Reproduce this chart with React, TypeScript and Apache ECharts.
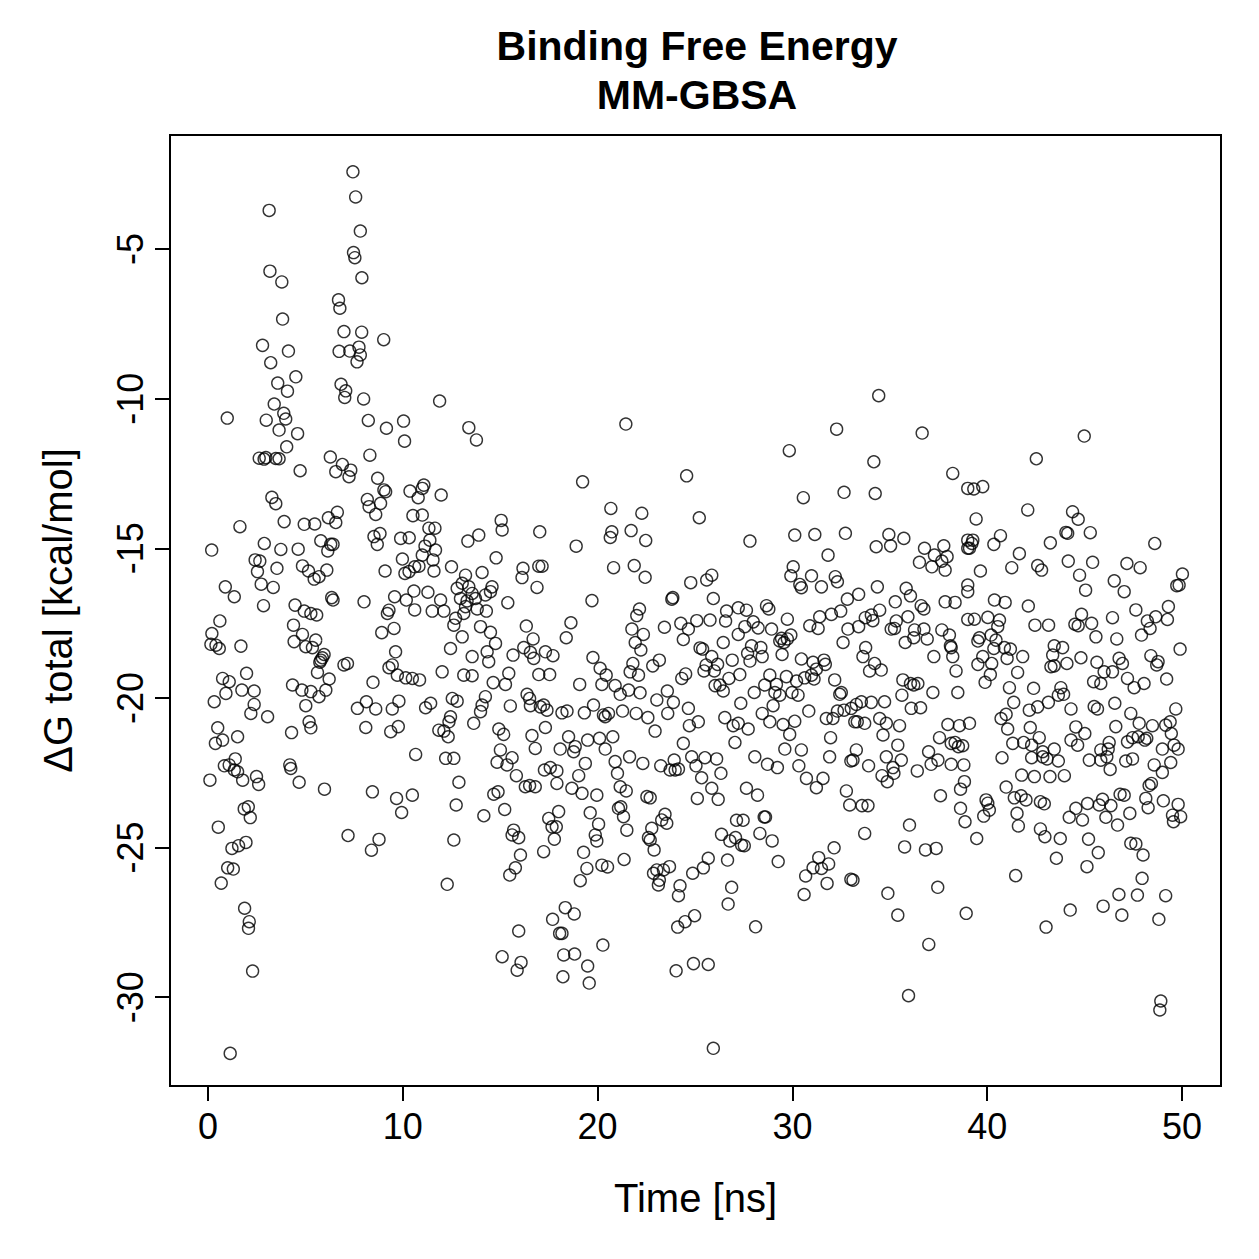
import React, { useEffect, useRef } from "react";
import * as echarts from "echarts";

// ---- Data (time [ns], ΔG total [kcal/mol]) ----
const earlySpikes: [number, number][] = [
  [7.44,-2.42],[7.58,-3.26],[3.14,-3.71],[7.82,-4.40],[7.47,-5.12],[7.54,-5.29],[3.18,-5.74],[3.79,-6.10],[7.90,-5.96],[6.70,-6.70],[6.77,-6.98],[3.83,-7.34],[6.98,-7.76],[7.89,-7.78],[9.02,-8.03],[2.80,-8.22],[4.13,-8.41],[3.22,-8.80],[6.73,-8.42],[7.28,-8.41],[7.75,-8.28],[7.82,-8.54],[7.65,-8.77],[4.51,-9.27],[3.58,-9.48],[4.08,-9.75],[6.83,-9.52],[7.07,-9.74],[7.02,-9.96],[7.99,-10.01],[11.89,-10.08],[3.40,-10.18],[3.89,-10.49],[3.99,-10.68],[0.99,-10.65],[2.99,-10.72],[8.23,-10.73],[9.16,-10.99],[10.04,-10.75],[3.65,-11.05],[4.60,-11.17],[10.09,-11.42],[4.04,-11.61],[8.31,-11.89],[6.28,-11.95],[2.63,-11.99],[2.97,-11.97],[2.88,-12.02],[3.48,-12.0],[3.65,-12.01],
];
const upperOutliers: [number, number][] = [
  [13.39,-10.97],[13.78,-11.38],[21.45,-10.85],[34.43,-9.90],[32.27,-11.02],[36.66,-11.15],[29.84,-11.74],[34.18,-12.11],[44.98,-11.25],[42.52,-12.01],
];
const first13nsMid: [number, number][] = [
  [6.90,-12.2],[6.56,-12.44],[7.33,-12.39],[7.24,-12.61],[4.73,-12.41],[8.71,-12.66],[9.03,-13.05],[9.12,-13.11],[8.18,-13.37],[8.86,-13.50],[8.27,-13.61],[8.61,-13.87],[10.37,-13.09],[10.79,-13.31],[11.00,-13.0],[11.08,-12.89],[11.97,-13.22],[10.52,-13.91],[11.0,-13.89],[3.28,-13.30],[3.48,-13.51],[3.91,-14.11],[1.64,-14.28],[4.94,-14.2],[5.48,-14.19],[6.18,-13.98],[6.64,-13.80],[6.56,-14.14],
  [11.34,-14.33],[11.65,-14.33],[11.39,-14.73],[11.68,-15.06],[11.14,-14.93],[11.0,-15.23],[11.55,-15.39],[10.83,-15.6],[10.61,-15.62],[11.6,-15.76],[10.32,-15.78],[10.11,-15.84],[9.98,-15.36],
  [8.52,-14.61],[8.83,-14.51],[8.69,-14.87],[9.89,-14.67],[10.33,-14.65],[12.5,-15.62],[9.09,-15.76],[0.19,-15.06],[2.89,-14.84],[3.74,-15.04],[4.63,-15.03],[5.79,-14.75],[6.30,-14.87],[6.42,-14.87],[6.15,-15.09],[2.42,-15.39],[2.66,-15.43],[2.54,-15.78],[3.54,-15.67],[4.85,-15.59],[5.16,-15.76],[5.45,-16.03],[5.70,-15.95],[6.10,-15.73],[0.89,-16.29],[1.35,-16.62],[2.73,-16.2],[3.35,-16.31],[2.85,-16.92],[4.47,-16.9],[6.35,-16.65],[6.42,-16.73],[4.94,-17.1],[5.28,-17.18],[5.58,-17.23],[8.01,-16.79],
  [9.58,-16.62],[10.18,-16.73],[10.57,-16.43],[11.29,-16.47],[11.94,-16.73],[10.61,-17.06],[11.51,-17.1],[12.11,-17.1],[9.29,-17.07],[9.21,-17.18],[0.61,-17.43],[0.2,-17.85],[0.15,-18.21],[0.41,-18.24],[0.58,-18.35],[1.69,-18.27],
  [4.39,-17.57],[4.85,-17.88],[4.42,-18.12],[5.53,-18.07],[5.02,-18.29],[5.36,-18.32],[5.96,-18.55],[5.79,-18.74],[5.87,-18.66],[5.74,-18.81],[6.98,-18.9],[7.16,-18.85],[8.92,-17.82],[9.55,-17.68],[9.63,-18.46],
  [9.29,-18.99],[9.46,-18.9],[9.72,-19.24],[10.15,-19.33],[10.49,-19.35],[10.86,-19.4],[12.02,-19.13],[8.47,-19.48],
  [1.98,-19.18],[0.75,-19.35],[1.09,-19.46],[0.92,-19.85],[0.32,-20.13],[1.74,-19.74],[2.37,-19.77],[2.37,-20.22],[2.2,-20.52],[3.06,-20.63],
  [6.22,-19.37],[6.05,-19.74],[5.7,-19.96],[5.28,-19.79],[4.82,-19.74],[4.34,-19.57],[5.02,-20.26],[5.62,-19.15],[5.19,-20.8],[5.28,-21.0],[4.29,-21.16],
  [7.67,-20.35],[8.13,-20.13],[8.61,-20.37],[9.46,-20.37],[9.8,-20.11],[8.1,-20.99],[9.38,-21.13],[9.77,-20.96],[11.17,-20.33],[11.43,-20.18],[10.66,-21.89],[12.45,-20.63],[12.37,-20.8],[11.85,-21.08],[12.11,-21.11],[12.33,-21.3],
  [0.5,-21.0],[0.75,-21.41],[0.38,-21.52],[1.52,-21.3],[12.2,-22.02],[12.62,-22.02],
];
const first13nsLow: [number, number][] = [
  [1.40,-22.04],[0.84,-22.27],[1.09,-22.24],[1.35,-22.41],[1.52,-22.47],[0.10,-22.75],[1.78,-22.75],[2.49,-22.63],[2.60,-22.89],[4.20,-22.24],[4.25,-22.36],[4.68,-22.82],[5.98,-23.05],[8.44,-23.14],[9.68,-23.36],[10.49,-23.25],[9.94,-23.83],[12.88,-22.82],[12.74,-23.58],[12.62,-24.75],[12.28,-26.23],[1.86,-23.71],[2.07,-23.64],[2.17,-24.0],[0.53,-24.32],[1.23,-25.03],[1.57,-24.94],[1.95,-24.83],[1.01,-25.68],[1.30,-25.72],[0.68,-26.19],[7.19,-24.6],[8.39,-25.09],[8.78,-24.73],[1.88,-27.03],[2.12,-27.48],[2.08,-27.70],[2.29,-29.13],[1.14,-31.88],
];
const midTimeUpper: [number, number][] = [
  [19.23,-12.78],[24.57,-12.58],[20.68,-13.67],[22.27,-13.83],[25.22,-13.98],[15.05,-14.07],[15.10,-14.39],[17.03,-14.45],[13.90,-14.56],[13.34,-14.76],[20.73,-14.45],[20.65,-14.64],[21.72,-14.41],[22.47,-14.74],[18.90,-14.93],[14.79,-15.32],[20.82,-15.65],[21.88,-15.58],[22.44,-15.97],[16.17,-15.67],[16.12,-15.98],[16.98,-15.60],[17.15,-15.60],[16.89,-16.31],
  [13.22,-15.9],[14.07,-15.81],[13.05,-16.17],[12.79,-16.34],[13.39,-16.29],[13.56,-16.51],[13.73,-16.68],[14.58,-16.29],[14.50,-16.45],[14.24,-16.56],[12.96,-16.68],[13.30,-16.76],[13.22,-16.95],[13.82,-17.03],[14.29,-17.10],[13.13,-17.18],[12.71,-17.34],[12.62,-17.57],[15.39,-16.82],[13.05,-17.96],[13.99,-17.62],[14.50,-17.81],[14.76,-18.18],[14.33,-18.46],[14.41,-18.79],[13.56,-18.62],[13.13,-19.24],[13.56,-19.26],[14.64,-19.49],[15.27,-19.55],[15.44,-19.18],[12.45,-18.35],
  [16.34,-17.6],[16.69,-18.03],[16.21,-18.32],[16.55,-18.48],[16.72,-18.68],[15.66,-18.57],[17.32,-18.46],[17.71,-18.59],[16.98,-19.22],[17.54,-19.22],[18.63,-17.49],[18.39,-17.99],[19.71,-16.75],
  [21.76,-17.7],[22.01,-17.25],[22.15,-17.03],[22.35,-17.88],[21.93,-18.15],[22.22,-18.4],[23.81,-16.7],[23.86,-16.65],[23.43,-17.64],[24.27,-17.51],[24.66,-17.7],[25.09,-17.42],[24.40,-18.05],[24.78,-16.15],[25.60,-16.06],[25.86,-15.9],[25.94,-16.68],[25.77,-17.4],[25.26,-18.33],[25.39,-18.37],[25.86,-18.62],[25.57,-18.9],[25.46,-19.1],
  [19.76,-18.65],[20.13,-19.01],[20.44,-19.24],[20.22,-19.55],[21.81,-18.85],[21.67,-19.13],[22.10,-19.24],[22.83,-18.93],[23.17,-18.74],[20.90,-19.59],[21.16,-19.88],[21.59,-19.74],[22.18,-19.83],[19.08,-19.55],[23.58,-19.77],[23.04,-20.07],[23.89,-20.15],[24.32,-19.35],[24.52,-19.2],[26.03,-19.59],
  [16.38,-19.88],[16.51,-20.02],[16.55,-20.26],[17.06,-20.3],[17.23,-20.24],[17.40,-20.41],[18.17,-20.5],[18.43,-20.44],[15.52,-20.27],[14.24,-19.96],[14.07,-20.24],[13.99,-20.46],[13.64,-20.85],[12.79,-20.11],[12.54,-20.02],[14.93,-21.04],[15.18,-21.22],[17.32,-20.99],[16.63,-21.26],[16.80,-21.69],[15.01,-21.74],
  [19.32,-20.5],[19.79,-20.24],[20.39,-20.63],[20.56,-20.52],[20.30,-20.57],[21.28,-20.44],[21.98,-20.52],[22.58,-20.66],[22.95,-21.11],[23.60,-20.52],[24.66,-20.35],[24.71,-20.93],[25.17,-20.8],[24.40,-21.52],
  [18.51,-21.3],[18.85,-21.63],[18.77,-21.8],[19.49,-21.41],[20.10,-21.35],[20.78,-21.3],[20.39,-21.71],[18.08,-21.71],
];
const midTimeLower: [number, number][] = [
  [14.84,-22.15],[15.35,-22.24],[15.61,-22.0],[15.83,-22.6],[16.29,-22.97],[16.51,-22.93],[16.80,-22.97],[14.67,-23.22],[14.89,-23.14],[14.16,-23.94],[15.23,-23.73],[15.69,-24.42],[15.61,-24.58],[15.95,-24.67],[16.04,-25.25],[15.78,-25.68],[15.49,-25.92],[17.27,-22.41],[17.57,-22.33],[17.91,-22.44],[17.91,-22.86],[18.0,-23.8],[17.49,-24.03],[17.66,-24.31],[17.88,-24.31],[17.78,-24.72],[17.23,-25.14],[19.37,-22.19],[19.03,-22.6],[18.68,-23.02],[19.2,-23.19],[19.96,-23.25],[19.62,-23.84],[20.05,-24.22],[19.88,-24.58],[19.96,-24.78],[19.28,-25.16],[19.45,-25.7],[19.11,-26.11],[20.22,-25.59],[20.51,-25.65],[21.36,-25.4],[20.9,-22.13],[21.02,-22.52],[21.16,-22.97],[21.47,-23.11],[21.64,-21.97],[21.07,-23.69],[21.19,-23.64],[21.33,-23.97],[21.5,-24.42],[22.32,-22.19],[22.53,-23.3],[22.7,-23.34],[23.24,-22.27],[23.72,-22.41],[23.98,-22.41],[24.15,-22.38],[23.93,-22.08],[24.83,-21.97],[25.05,-22.27],[25.34,-22.67],[25.51,-22.0],[25.12,-23.36],[25.86,-23.02],[23.46,-23.89],[23.29,-24.08],[23.55,-24.19],[22.78,-24.36],[22.61,-24.67],[22.7,-24.75],[22.9,-25.08],[23.69,-25.64],[23.38,-25.75],[23.04,-25.75],[22.87,-25.86],[23.17,-26.09],[23.12,-26.25],[24.23,-26.28],[24.15,-26.61],[25.68,-25.36],[25.43,-25.68],[24.88,-25.86],[18.34,-27.01],[18.8,-27.22],[17.69,-27.4],[15.95,-27.79],[18.05,-27.87],[18.17,-27.87],[20.27,-28.26],[15.1,-28.65],[16.07,-28.84],[15.87,-29.1],[18.26,-28.59],[18.82,-28.56],[19.49,-28.96],[18.22,-29.32],[19.57,-29.53],[24.98,-27.28],[24.49,-27.48],[24.11,-27.66],[24.92,-28.88],[25.68,-28.91],[24.03,-29.12],[25.94,-31.71],
];
const lateTimeUpper: [number, number][] = [
  [38.23,-12.5],[30.56,-13.31],[32.65,-13.13],[34.25,-13.17],[39.0,-13.0],[27.82,-14.76],[30.12,-14.56],[31.15,-14.54],[32.72,-14.5],[31.83,-15.23],[34.3,-14.95],[34.95,-14.54],[35.04,-14.92],[35.72,-14.67],[36.78,-15.0],[37.29,-15.23],[37.77,-14.92],[37.94,-15.28],[37.67,-15.43],[36.52,-15.47],[37.16,-15.62],[37.84,-15.73],[39.0,-14.73],[39.0,-15.0],[30.04,-15.62],[29.92,-15.92],[30.38,-16.21],[30.46,-16.32],[30.98,-15.92],[31.49,-16.29],[32.2,-15.95],[32.31,-16.12],[34.36,-16.29],[35.84,-16.34],[36.06,-16.59],[32.82,-16.7],[33.4,-16.54],[35.28,-16.79],[36.61,-16.92],[36.75,-17.03],[37.84,-16.79],[38.35,-16.81],[39.0,-16.23],[39.0,-16.45],
  [26.62,-17.1],[27.22,-16.99],[27.64,-17.07],[28.67,-16.92],[28.79,-17.03],[29.74,-17.37],[26.57,-17.43],[27.99,-17.46],[28.24,-17.66],[27.56,-17.62],[27.22,-17.88],[28.93,-17.7],[29.92,-17.9],[29.74,-18.03],[29.44,-18.01],[29.57,-18.15],[29.47,-18.55],[29.35,-18.1],
  [31.4,-17.29],[30.89,-17.59],[31.32,-17.68],[32.0,-17.21],[32.48,-17.1],[32.85,-17.7],[32.6,-18.15],[33.4,-17.62],[33.74,-17.32],[34.05,-17.23],[34.13,-17.42],[34.48,-17.07],[35.33,-17.43],[35.07,-17.7],[35.24,-17.68],[35.93,-17.29],[36.27,-17.73],[36.75,-17.7],[36.92,-18.03],[35.79,-18.15],[36.23,-17.99],[37.67,-17.73],[38.06,-17.9],[38.11,-18.26],[38.15,-18.32],[38.23,-18.62],[37.26,-18.62],[39.0,-17.38],
  [26.16,-18.88],[25.99,-19.1],[26.45,-18.15],[26.91,-18.74],[27.7,-18.51],[27.9,-18.26],[28.38,-18.32],[28.45,-18.62],[27.82,-18.77],
  [30.46,-18.7],[31.06,-18.81],[31.62,-18.74],[31.69,-18.88],[31.23,-19.04],[30.98,-19.24],[30.63,-19.33],[31.11,-19.37],[32.17,-19.4],[32.43,-19.88],[32.51,-19.82],[32.31,-20.44],[32.08,-20.69],[31.74,-20.69],
  [33.76,-18.32],[33.62,-18.62],[34.22,-18.85],[34.56,-19.07],[33.96,-19.1],[35.67,-19.4],[36.06,-19.52],[36.23,-19.57],[36.44,-19.52],[35.62,-19.91],[37.21,-19.82],[38.49,-19.82],[38.4,-19.1],[36.1,-20.35],[36.58,-20.33],
  [34.73,-20.13],[34.05,-20.15],[33.54,-20.13],[33.28,-20.22],[33.02,-20.35],[32.65,-20.41],[33.33,-20.8],[33.2,-20.8],[33.71,-20.85],[34.48,-20.69],[34.82,-20.85],[35.5,-20.93],[34.65,-21.24],[35.41,-21.58],[33.28,-21.74],[31.96,-21.33],
  [37.98,-20.89],[38.57,-20.93],[37.55,-21.33],[38.15,-21.52],[38.35,-21.49],[38.52,-21.63],[38.74,-21.6],[36.99,-21.8],
  [28.84,-19.24],[28.58,-19.57],[29.18,-19.55],[29.1,-19.82],[29.35,-19.91],[29.01,-20.26],[29.98,-19.82],[30.21,-19.44],[30.29,-19.91],[29.69,-19.29],[30.84,-20.44],
  [27.3,-19.22],[26.74,-19.35],[26.28,-19.57],[26.45,-19.77],[28.04,-19.82],[27.35,-20.18],[28.45,-20.52],[28.84,-20.8],[29.52,-20.89],[30.12,-20.78],[29.86,-21.22],[30.46,-21.74],[29.61,-21.71],[26.53,-20.66],[26.96,-20.93],[27.22,-20.85],[27.73,-21.04],[27.05,-21.49],
];
const lateTimeLower: [number, number][] = [
  [26.11,-22.04],[26.33,-22.52],[26.19,-23.39],[28.07,-21.97],[28.72,-22.22],[29.23,-22.33],[30.33,-22.27],[31.91,-21.97],[30.72,-22.69],[31.23,-23.0],[31.57,-22.69],[27.64,-23.02],[28.21,-23.25],[33.0,-22.11],[33.11,-22.08],[33.91,-22.27],[34.82,-21.97],[35.59,-22.08],[35.16,-22.33],[35.21,-22.52],[34.6,-22.6],[34.87,-22.8],[36.41,-22.44],[37.12,-22.22],[37.47,-22.08],[38.15,-22.22],[38.8,-22.24],[38.83,-22.8],[38.63,-23.05],[38.63,-23.69],[38.86,-24.14],[37.6,-23.27],[32.77,-23.11],[32.94,-23.58],[33.57,-23.6],[33.88,-23.6],[27.13,-24.09],[27.47,-24.09],[28.55,-23.98],[28.62,-23.98],[26.36,-24.56],[26.79,-24.78],[27.08,-24.67],[27.39,-24.92],[27.53,-24.94],[28.33,-24.53],[28.96,-24.78],[29.27,-25.47],[26.67,-25.42],[26.88,-26.33],[26.7,-26.89],[28.11,-27.65],[33.71,-24.53],[32.14,-25.01],[31.35,-25.34],[31.06,-25.68],[31.49,-25.7],[31.86,-25.55],[30.68,-25.95],[30.6,-26.57],[31.78,-26.2],[33.0,-26.06],[33.11,-26.09],[36.01,-24.25],[35.76,-24.98],[36.83,-25.08],[37.38,-25.03],[34.9,-26.53],[35.41,-27.26],[37.46,-26.33],[38.92,-27.2],[37.0,-28.24],[35.96,-29.95],
];
const finalTimeUpper: [number, number][] = [
  [39.31,-13.02],[39.77,-12.94],[42.08,-13.72],[44.38,-13.78],[44.67,-14.03],[44.04,-14.47],[44.13,-14.5],[45.29,-14.48],[39.43,-14.02],[39.26,-14.73],[39.09,-15.0],[39.21,-14.84],[40.34,-14.87],[40.68,-14.58],[43.24,-14.82],[48.6,-14.84],[41.65,-15.18],[41.26,-15.65],[42.59,-15.58],[42.79,-15.73],[39.65,-15.76],[44.16,-15.43],[45.41,-15.47],[44.74,-15.9],[45.05,-16.4],[47.17,-15.51],[47.85,-15.65],[46.52,-16.09],[47.03,-16.45],[50.02,-15.86],[49.73,-16.25],[49.85,-16.23],[40.37,-16.73],[40.92,-16.81],[42.11,-16.93],[39.34,-17.37],[40.03,-17.31],[40.63,-17.4],[40.54,-17.62],[42.45,-17.57],[43.15,-17.57],[44.5,-17.54],[44.67,-17.59],[44.84,-17.21],[45.36,-17.51],[45.58,-17.96],[46.43,-17.32],[46.65,-18.03],[47.63,-17.06],[48.22,-17.43],[48.65,-17.29],[48.36,-17.68],[47.92,-17.9],[49.3,-16.95],[49.25,-17.38],[49.9,-18.37],[48.4,-18.59],[48.77,-18.79],[48.7,-18.9],[49.21,-19.37],
  [39.6,-17.99],[39.52,-18.1],[40.2,-17.9],[40.45,-18.07],[40.34,-18.35],[40.88,-18.32],[41.19,-18.37],[41.02,-18.68],[41.82,-18.62],[39.77,-18.62],[39.52,-18.88],[40.23,-18.85],[41.56,-19.15],[40.16,-19.22],[39.89,-19.48],
  [43.44,-18.26],[43.87,-18.32],[43.36,-18.57],[43.27,-18.96],[43.44,-18.93],[44.09,-18.85],[44.81,-18.66],[45.63,-18.81],[46.0,-19.13],[46.43,-19.13],[46.77,-18.68],[46.94,-18.85],[47.2,-19.35],[47.54,-19.66],[48.05,-19.52],[45.46,-19.46],[45.83,-19.52],
  [41.14,-19.66],[41.36,-20.15],[42.38,-19.68],[43.78,-19.66],[43.65,-19.91],[43.92,-19.88],[43.14,-20.15],[42.59,-20.3],[42.16,-20.41],[40.97,-20.55],[40.71,-20.69],[41.05,-21.04],[44.3,-20.37],[45.49,-20.29],[45.66,-20.37],
  [46.55,-20.18],[47.37,-20.52],[47.8,-20.85],[48.48,-20.93],[49.16,-20.91],[49.39,-20.8],[49.45,-21.19],[49.68,-20.37],[48.99,-21.71],[49.59,-21.58],[49.8,-21.71],[45.83,-21.74],[46.21,-21.71],[46.26,-21.49],[46.6,-20.96],[47.2,-21.47],[47.46,-21.33],[47.75,-21.3],[48.09,-21.41],[48.19,-21.35],
  [44.55,-20.97],[45.01,-21.19],[44.3,-21.41],[44.64,-21.58],[42.21,-20.99],[42.67,-21.33],[41.87,-21.49],[42.28,-21.58],[42.85,-21.8],[43.44,-21.71],[41.31,-21.52],[39.09,-20.85],
];
const finalTimeLower: [number, number][] = [
  [40.76,-22.0],[42.28,-22.0],[42.85,-21.97],[43.07,-22.04],[43.65,-22.11],[41.77,-22.58],[42.42,-22.63],[43.22,-22.63],[43.96,-22.6],[40.97,-22.98],[39.94,-23.41],[40.03,-23.52],[39.82,-23.95],[40.11,-23.75],[39.46,-24.7],[41.39,-23.34],[41.74,-23.27],[41.99,-23.41],[41.53,-23.86],[41.6,-24.28],[42.73,-23.47],[42.93,-23.54],[42.73,-24.38],[42.96,-24.64],[43.75,-24.7],[43.55,-25.36],[41.46,-25.94],[45.24,-22.08],[45.83,-22.08],[46.14,-21.97],[46.31,-22.39],[47.11,-22.11],[47.46,-22.04],[44.21,-23.99],[44.55,-23.69],[45.15,-23.53],[44.89,-24.08],[45.75,-23.58],[45.92,-23.39],[46.09,-23.99],[46.35,-23.6],[46.69,-24.25],[47.32,-23.86],[46.82,-23.22],[47.03,-23.25],[45.2,-24.72],[45.7,-25.17],[45.12,-25.64],[47.37,-24.86],[47.63,-24.88],[48.0,-25.25],[47.95,-26.03],[44.26,-27.09],[43.02,-27.66],[45.95,-26.96],[46.76,-26.57],[46.91,-27.26],[47.71,-26.59],[48.81,-27.4],[49.16,-26.61],[48.57,-22.24],[48.99,-22.49],[49.42,-22.16],[48.43,-22.86],[48.31,-22.93],[48.14,-23.36],[48.26,-23.67],[49.04,-23.44],[49.8,-23.56],[49.51,-23.92],[49.93,-23.97],[49.56,-24.14],[48.91,-30.13],[48.86,-30.43],
];

const xTicks = [0, 10, 20, 30, 40, 50];
const yTicks = [-30, -25, -20, -15, -10, -5];

const FONT = "'Liberation Sans', Arial, Helvetica, sans-serif";

export default function App() {
  const ref = useRef<HTMLDivElement>(null);
  useEffect(() => {
    if (!ref.current) return;
    const chart = echarts.init(ref.current, undefined, { renderer: "svg" });
    const data = [
      ...earlySpikes, ...upperOutliers, ...first13nsMid, ...first13nsLow,
      ...midTimeUpper, ...midTimeLower, ...lateTimeUpper, ...lateTimeLower,
      ...finalTimeUpper, ...finalTimeLower,
    ];
    chart.setOption({
      animation: false,
      backgroundColor: "#ffffff",
      title: {
        text: "Binding Free Energy\nMM-GBSA",
        left: 697,
        top: 21,
        textAlign: "center",
        padding: 0,
        textStyle: { fontFamily: FONT, fontSize: 41, fontWeight: "bold", color: "#000", lineHeight: 49 },
      },
      grid: {
        left: 170, top: 135, width: 1051, height: 951,
        show: true, borderColor: "#000", borderWidth: 2, backgroundColor: "transparent",
        containLabel: false, outerBoundsMode: "none",
      },
      xAxis: {
        type: "value", min: -1.95, max: 52.0,
        name: "Time [ns]", nameLocation: "middle", nameGap: 92,
        nameTextStyle: { fontFamily: FONT, fontSize: 40, color: "#000" },
        axisLine: { show: false, onZero: false },
        axisTick: { show: true, length: 15, inside: false, customValues: xTicks, lineStyle: { color: "#000", width: 2 } },
        axisLabel: { show: true, margin: 22, customValues: xTicks, fontFamily: FONT, fontSize: 36, color: "#000" },
        splitLine: { show: false },
      },
      yAxis: {
        type: "value", min: -32.97, max: -1.19,
        name: "ΔG total [kcal/mol]", nameLocation: "middle", nameGap: 92, nameRotate: 90,
        nameTextStyle: { fontFamily: FONT, fontSize: 40, color: "#000" },
        axisLine: { show: false, onZero: false },
        axisTick: { show: true, length: 15, inside: false, customValues: yTicks, lineStyle: { color: "#000", width: 2 } },
        axisLabel: { show: true, margin: 22, rotate: 90, customValues: yTicks, fontFamily: FONT, fontSize: 36, color: "#000" },
        splitLine: { show: false },
      },
      series: [{
        type: "scatter",
        data,
        symbol: "circle",
        symbolSize: 12,
        silent: true,
        itemStyle: { color: "rgba(0,0,0,0)", borderColor: "#000", borderWidth: 1.4 },
      }],
    });
    return () => chart.dispose();
  }, []);
  return (
    <div
      ref={ref}
      style={{ position: "fixed", left: 0, top: 0, width: 1259, height: 1259, background: "#fff" }}
    />
  );
}
